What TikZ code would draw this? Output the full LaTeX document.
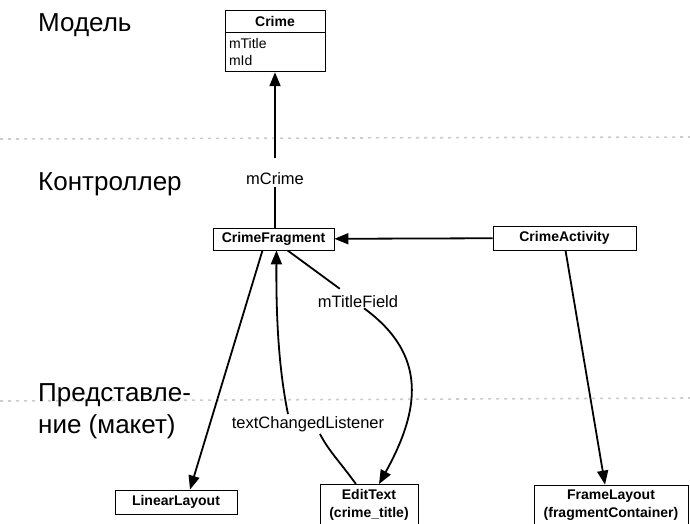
\documentclass[tikz,border=0pt]{standalone}
\usepackage{fontspec}
\setmainfont{Liberation Sans}
\usetikzlibrary{arrows.meta,calc}

\tikzset{
  cls/.style={draw,line width=0.8pt,fill=white,font=\fontsize{14}{18}\selectfont\bfseries,
    inner sep=0pt,align=center},
  lnk/.style={line width=1.8pt},
  arr/.style={lnk,-{Triangle[length=14pt,width=11pt]}},
  lbl/.style={font=\fontsize{16.5}{18}\selectfont,inner sep=2pt},
  layer/.style={font=\fontsize{26}{32}\selectfont,anchor=base west,align=left,inner sep=0pt},
  sep/.style={gray!40,line width=1.6pt,dash pattern=on 3pt off 5pt}
}

\begin{document}
\begin{tikzpicture}[x=1pt,y=-1pt]
  \useasboundingbox (0,0) rectangle (690,523);
  % layers
  \draw[sep] (0,139) -- (690,137);
  \draw[sep] (0,401) -- (690,398);
  \node[layer] (model) at (38,31) {Модель};
  \node[layer] (ctrl) at (38,190) {Контроллер};
  \node[layer] (view) at (38,433) {Представле-\\ние (макет)};

  % classes
  \node[cls,minimum width=100pt,minimum height=22pt] (crime) at (275,21) {Crime};
  \node[draw,line width=0.8pt,anchor=north,text width=92pt,align=left,inner sep=4pt,
        minimum height=39pt,font=\fontsize{14}{17}\selectfont] (crimeflds) at (crime.south)
    {mTitle\\mId};
  \node[cls,minimum width=121pt,minimum height=22pt] (frag) at (273.5,239) {CrimeFragment};
  \node[cls,minimum width=143pt,minimum height=24pt] (act) at (564.5,238) {CrimeActivity};
  \node[cls,minimum width=122pt,minimum height=24pt] (lin) at (176,502) {LinearLayout};
  \node[cls,minimum width=98pt,minimum height=40pt] (edit) at (369,504.5) {EditText\\(crime\_title)};
  \node[cls,minimum width=154pt,minimum height=40pt] (frame) at (611,505) {FrameLayout\\(fragmentContainer)};

  % labels
  \node[lbl] (mcrime) at (275,179) {mCrime};
  \node[lbl] (mtf) at (358,302) {mTitleField};
  \node[lbl] (tcl) at (308,424) {textChangedListener};

  % links
  \draw[lnk] (frag.north -| mcrime) -- (mcrime);
  \draw[arr,shorten <=13pt] (mcrime) -- (crimeflds.south -| mcrime);
  \draw[arr] (act) -- (frag);
  \draw[arr] ($(frag.south)+(-11,0)$) -- ($(lin.north)+(14,0)$);
  \draw[arr] ($(act.south)+(1,0)$) -- ($(frame.north)+(-6,0)$);
  \draw[lnk] ($(frag.south)+(14,0)$) -- ($(mtf.north west)+(24,-5)$);
  \draw[arr] ($(mtf.south)+(6,-2)$) .. controls (428,355) and (420,410) .. ($(edit.north)+(10,0)$);
  \draw[lnk] ($(edit.north)+(-13,0)$) .. controls (340,462) and (328,450) .. ($(tcl.south)+(12,0)$);
  \draw[arr] ($(tcl.north)+(-20,0)$) .. controls (279,370) and (276,320) .. ($(frag.south)+(3,0)$);
\end{tikzpicture}
\end{document}
